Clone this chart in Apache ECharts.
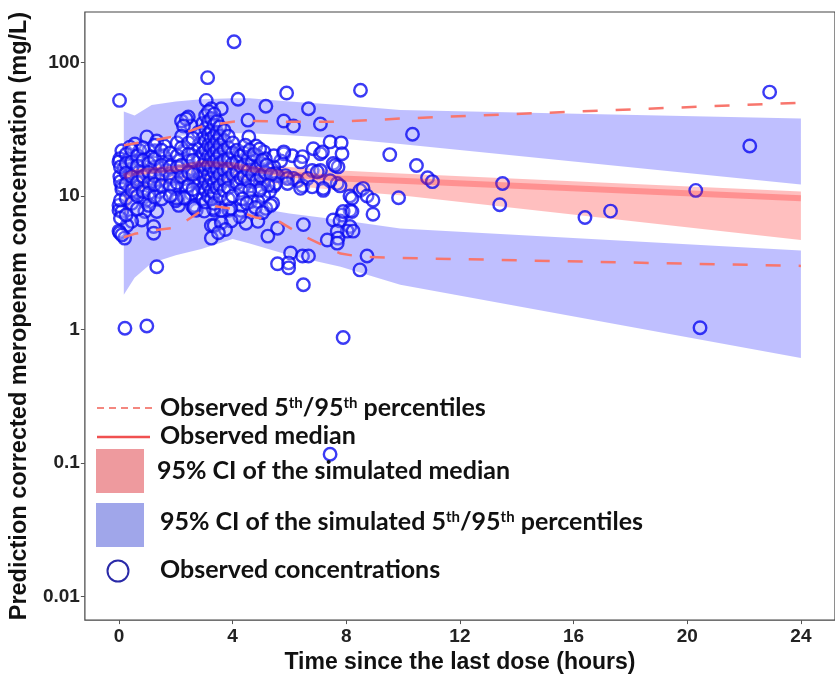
<!DOCTYPE html>
<html><head><meta charset="utf-8">
<script src="https://cdn.jsdelivr.net/npm/echarts@6/dist/echarts.min.js"></script>
<style>html,body{margin:0;padding:0;background:#fff}#c{width:835px;height:679px}</style>
</head><body><div id="c"></div>
<script>
// ---------- tick labels ----------
const xTicks = [0, 4, 8, 12, 16, 20, 24];
const yTicks = [0.01, 0.1, 1, 10, 100];
const yTickLabels = ['0.01', '0.1', '1', '10', '100'];

// ---------- simulated bands (time bins) ----------
const bandTime   = [0.17, 0.55, 1.15, 2.0, 2.9, 4.0, 4.6, 6.0, 7.8, 9.9, 24];
// 95% CI of simulated 95th percentile
const p95CiLo    = [23, 24, 26, 28, 29, 29.5, 29.5, 28.5, 27, 24.5, 12.2];
const p95CiHi    = [43, 40, 48, 51, 53, 54, 54, 51, 48, 44, 38];
// 95% CI of simulated 5th percentile
const p5CiLo     = [1.82, 2.44, 3.15, 3.6, 4.0, 4.75, 4.4, 3.6, 2.95, 2.16, 0.61];
const p5CiHi     = [10, 9.9, 9.8, 9.6, 9.4, 9.0, 8.3, 7.4, 6.6, 5.7, 3.9];
// 95% CI of simulated median
const medCiLo    = [6.8, 10.5, 12, 12.5, 13, 13, 12.8, 12, 11, 10.1, 4.67];
const medCiHi    = [15, 16, 17, 17.5, 18, 18, 17.5, 16.5, 15.5, 14.7, 10.8];

// ---------- observed percentiles ----------
const medObsTime = [0.17, 0.55, 1.15, 2.0, 2.9, 4.0, 4.6, 6.0, 7.8, 9.9, 24];
const medObs     = [14, 15, 15.5, 16, 17.5, 17, 16, 14.5, 13.5, 13, 9.6];
const p95ObsTime = [0.17, 1.15, 2.0, 2.9, 4.0, 4.6, 6.0, 7.8, 9.9, 24];
const p95Obs     = [24, 26, 28, 33, 36, 36.5, 36, 36, 38, 50];
const p5ObsTime  = [0.17, 0.55, 1.15, 2.0, 2.5, 3.2, 4.0, 4.8, 5.6, 6.5, 7.8, 8.5, 9.9, 24];
const p5Obs      = [4.9, 5.2, 5.5, 5.8, 6.8, 8.5, 8.0, 6.9, 6.5, 5.0, 3.7, 3.5, 3.43, 2.99];

// ---------- observed concentrations [time (h), conc (mg/L)] ----------
const observed = [
 [0.02,52],[4.05,143],[3.12,77],[5.9,59],[8.5,62],[4.19,53],[3.07,52],[5.17,47],[6.67,45],[3.25,45],[3.6,45],
 [22.9,60],[22.2,23.7],[20.3,11],[16.4,6.9],[17.3,7.7],[13.5,12.4],[13.4,8.6],[10.33,29],[10.47,16.9],[10.86,13.7],
 [11.03,12.8],[9.53,20.4],[9.84,9.7],[20.45,1.03],[0.21,1.02],[0.98,1.06],[7.89,0.87],[7.43,0.116],[1.33,2.95],[6.49,2.16],
 [5.41,8.8],[8.13,7.8],[8.94,7.3],[7.85,7.2],[7.54,6.6],[7.78,6.5],[6.49,6.1],[5.58,5.73],[8.13,5.9],[8.03,5.45],
 [7.68,5.45],[8.24,5.45],[7.33,4.67],[7.71,4.83],[7.68,4.43],[6.04,3.74],[6.46,3.55],[6.67,3.55],[8.73,3.55],[5.58,3.1],
 [5.97,3.15],[5.97,2.89],[8.48,2.79],
 [5.8,36.4],[6.14,33.4],[7.09,34.6],[7.43,25.4],[7.82,25],[7.85,20.7],[6.84,22.6],[7.09,20.7],[5.8,20.7],[6.1,20],
 [6.46,19.7],[7.54,17.5],[7.71,16.5],[6.8,15.5],[7.09,15.5],[7.68,12.4],[7.78,11.9],[6.39,18],[5.69,18.3],[5.45,16.5],
 [5.5,14.7],[5.86,14.2],[6.14,13.5],[6.46,11.9],[7.19,11],[8.13,10],[8.48,11],[5.45,11.9],
 [8.59,11.4],[8.73,10],[8.94,9.3],
 [4.54,37],[2.44,39],[2.55,33.4],[4.57,27.7],[4.82,23.7],[2.72,7.8],[3.35,7.8],[3.87,7.8],[4.29,7.8],[3.25,6.0],
 [3.25,4.83],[4.47,6.25],[4.89,6.45],[5.24,5.0],[5.17,8.07],[5.3,10.8],[4.64,9.1],
 [2.2,36.4],[2.37,37.7],[2.27,33.4],[0.98,27.7],[1.33,25.8],[0.56,24.5],[0.38,23.2],[1.6,23.7],[0.1,21.8],[1.26,21.8],
 [1.05,21.8],[0.73,21.8],[2.27,21.8],[2.6,21.8],[0.03,19],[0.0,18],[0.35,19],[0.7,18.3],[1.15,19.6],[1.57,20],
 [1.75,18],[2.1,18.3],[2.44,18.3],[0.17,16],[0.45,16],[0.87,15.5],[1.26,16.5],[1.68,15.5],[2.09,15.2],[2.55,16],
 [0.03,14],[0.35,13.5],[0.7,13.5],[1.15,13.5],[1.43,13],[1.92,13.5],[2.3,13.5],[2.65,13],[0.1,11.9],[0.52,11.9],
 [0.87,11.4],[1.33,11.4],[1.95,11.4],[2.37,11.7],[0.56,10.4],[0.87,9.8],[1.43,10.8],[2.09,9.8],[2.55,10.4],[0.0,8.5],
 [2.1,8.5],[2.65,8.5],
 [0.1,11.2],[0.91,9.1],[0.0,7.8],[0.1,7.65],[0.91,7.65],[1.33,7.65],[2.0,9.2],[2.3,9.8],[2.6,8.3],[0.8,6.6],
 [0.45,6.45],[0.28,6.0],[0.0,5.45],[0.03,5.3],[0.2,4.83],[0.1,5.1],[1.22,5.9],[1.22,5.25],
 [4.22,20],[5.1,21.4],[5.45,20],[5.8,21.4],[7.16,21.4],[7.6,16.9],[4.54,16.9],[4.89,16.9],[5.24,16],[5.58,14.2],
 [5.93,13.5],[6.28,13],[6.63,13.5],[6.98,15.2],[7.43,13],[7.19,11.4],[6.8,11.7],[6.39,11.4],[5.93,12.4],[5.51,12.4],
 [5.1,12.8],[4.75,12.8],[4.4,11.9],[4.05,12.8],[5.1,10],[4.64,9.6],[4.89,9.1],[5.34,8.5],[4.29,8.5],[3.94,8.07],
 [3.6,7.8],[3.32,8.07],[3.0,7.7],[3.35,6.0],[2.65,8.07],[2.3,9.6],[2.02,9.6],[7.89,7.65],[8.2,7.65],[8.2,9.6],
 [2.8,30],[2.8,24],[2.8,19],[2.8,15],[2.8,12.5],[2.8,10.5],
 [2.95,35],[2.95,27],[2.95,21],[2.95,17],[2.95,14],[2.95,11.5],[2.95,9.5],
 [3.05,40],[3.05,32],[3.05,26],[3.05,22],[3.05,18.5],[3.05,16],[3.05,13],[3.05,11],[3.05,9],
 [3.15,43],[3.15,36],[3.15,29],[3.15,24],[3.15,20],[3.15,17],[3.15,14.5],[3.15,12],[3.15,10],
 [3.25,38],[3.25,31],[3.25,27],[3.25,23],[3.25,19.5],[3.25,16.5],[3.25,13.5],[3.25,11],[3.25,9.5],
 [3.35,41],[3.35,34],[3.35,28],[3.35,24],[3.35,21],[3.35,18],[3.35,15],[3.35,12.5],[3.35,10.5],[3.35,8.8],
 [3.45,36],[3.45,30],[3.45,26],[3.45,22],[3.45,19],[3.45,16],[3.45,13.5],[3.45,11.5],
 [3.55,33],[3.55,28],[3.55,24],[3.55,20.5],[3.55,17.5],[3.55,14.5],[3.55,12],[3.55,10],
 [3.7,31],[3.7,26],[3.7,22],[3.7,18.5],[3.7,15.5],[3.7,13],[3.7,11],
 [3.85,28],[3.85,23],[3.85,19],[3.85,16],[3.85,13.5],[3.85,11.5],[3.85,9.5],
 [4.0,25],[4.0,21],[4.0,17.5],[4.0,14.5],[4.0,10],
 [4.15,22],[4.15,18],[4.15,15],[4.15,12.5],
 [4.3,20],[4.3,16.5],[4.3,13.5],[4.3,11],
 [4.4,21],[4.4,17],[4.4,14],[4.55,19],[4.55,15.5],[4.55,13],[4.7,18],[4.7,14.5],[4.85,20],[4.85,16],
 [4.85,13],[5.0,17.5],[5.0,14],[5.0,11.5],[5.15,19],[5.15,15],
 [0.05,16.5],[0.05,12.8],[0.05,9.3],[0.05,6.8],
 [0.25,20.5],[0.25,17.5],[0.25,14.8],[0.25,12.3],[0.25,9.6],[0.25,7.2],
 [0.45,22],[0.45,18],[0.45,14],[0.45,11],[0.45,8.8],
 [0.65,20],[0.65,16.8],[0.65,12.6],[0.65,10],[0.65,8],
 [0.85,23],[0.85,18.5],[0.85,14],[0.85,10.8],
 [1.05,17.5],[1.05,15],[1.05,12.5],[1.05,10.5],[1.05,8.5],
 [1.25,24],[1.25,19],[1.25,14.2],[1.25,12.2],[1.25,9.8],
 [1.5,22],[1.5,17],[1.5,14.5],[1.5,12],[1.5,9.5],
 [1.8,21],[1.8,16.5],[1.8,14],[1.8,12],[1.8,10],
 [2.05,25],[2.05,20],[2.05,16.5],[2.05,12.5],
 [2.2,28],[2.2,23],[2.2,17],[2.2,14],
 [2.45,25],[2.45,20.5],[2.45,15],[2.45,12],
 [2.6,27],[2.6,18.5],[2.6,14.5],[2.6,11.2],
 [4.45,24],[4.6,22],[4.75,20.5],[4.95,22.5],[5.05,18.5],[5.2,17],[5.35,14.5],[5.25,12],[4.95,11],[4.6,11],
 [4.35,9.5],[4.5,8.8],[4.8,8.2],[5.05,7.5],[4.25,7],[3.95,6.5],[3.6,6.3],[3.75,5.6],[3.5,5.3]
];

// ---------- chart ----------
const axisFont = "'Liberation Sans', Arial, sans-serif";
const legendFont = "Lato, 'Open Sans', sans-serif";

function bandSeries(name, lo, hi, fill) {
  return {
    name, type: 'custom', silent: true,
    data: bandTime.map((t, i) => [t, lo[i], hi[i]]),
    encode: { x: 0, y: [1, 2] },
    renderItem: (params, api) => {
      if (params.dataIndex !== 0) return null;
      const top = [], bot = [];
      for (let i = 0; i < bandTime.length; i++) {
        top.push(api.coord([bandTime[i], hi[i]]));
        bot.push(api.coord([bandTime[i], lo[i]]));
      }
      return { type: 'polygon', shape: { points: top.concat(bot.reverse()) }, style: { fill } };
    }
  };
}

function near(a, b) { return Math.abs(Math.log10(a) - Math.log10(b)) < 1e-6; }

const chart = echarts.init(document.getElementById('c'), null, { renderer: 'canvas' });
const LFS = 25;
const legendText = { fontFamily: legendFont, fontWeight: 'bold', fontSize: LFS, fill: '#111' };
const mainRich = { fontFamily: legendFont, fontWeight: 'bold', fontSize: LFS, fill: '#111' };
const sup = { fontFamily: legendFont, fontWeight: 'bold', fontSize: 15, verticalAlign: 'top', fill: '#111' };

chart.setOption({
  animation: false,
  backgroundColor: '#fff',
  grid: { left: 82, top: 12, width: 757, height: 613, show: true, borderColor: '#444', borderWidth: 1.2, backgroundColor: 'transparent' },
  xAxis: {
    type: 'value', min: -1.2, max: 25.2,
    name: 'Time since the last dose (hours)', nameLocation: 'middle', nameGap: 29,
    nameTextStyle: { fontFamily: axisFont, fontWeight: 'bold', fontSize: 23, color: '#111' },
    axisLine: { show: false, onZero: false },
    axisTick: { show: true, customValues: xTicks, length: 4, lineStyle: { color: '#555' } },
    axisLabel: { customValues: xTicks, fontFamily: axisFont, fontWeight: 'bold', fontSize: 19, color: '#222', margin: 7 },
    splitLine: { show: false }
  },
  yAxis: {
    type: 'log', logBase: 10, min: 0.00663, max: 239,
    name: 'Prediction corrected meropenem concentration (mg/L)', nameLocation: 'middle', nameGap: 46,
    nameTextStyle: { fontFamily: axisFont, fontWeight: 'bold', fontSize: 23.5, color: '#111' },
    axisLine: { show: false, onZero: false },
    axisTick: { show: true, customValues: yTicks, length: 4, lineStyle: { color: '#555' } },
    axisLabel: {
      customValues: yTicks, fontFamily: axisFont, fontWeight: 'bold', fontSize: 19, color: '#222', margin: 5,
      formatter: v => { const i = yTicks.findIndex(t => near(t, v)); return i >= 0 ? yTickLabels[i] : ''; }
    },
    splitLine: { show: false }
  },
  series: [
    bandSeries('p95ci', p95CiLo, p95CiHi, 'rgba(0,0,255,0.25)'),
    bandSeries('p5ci', p5CiLo, p5CiHi, 'rgba(0,0,255,0.25)'),
    bandSeries('medci', medCiLo, medCiHi, 'rgba(255,0,0,0.25)'),
    { type: 'line', silent: true, symbol: 'none', data: medObsTime.map((t, i) => [t, medObs[i]]),
      lineStyle: { color: 'rgba(255,40,40,0.3)', width: 6 } },
    { type: 'line', silent: true, symbol: 'none', data: p95ObsTime.map((t, i) => [t, p95Obs[i]]),
      lineStyle: { color: '#f8766d', width: 2.5, type: [15, 18] } },
    { type: 'line', silent: true, symbol: 'none', data: p5ObsTime.map((t, i) => [t, p5Obs[i]]),
      lineStyle: { color: '#f8766d', width: 2.5, type: [15, 18] } },
    { type: 'scatter', silent: true, symbol: 'circle', symbolSize: 12.5, data: observed,
      itemStyle: { color: 'rgba(255,255,255,0.25)', borderColor: '#0a0af2', borderWidth: 2.4 } }
  ],
  graphic: [
    { type: 'line', shape: { x1: 97, y1: 408, x2: 152, y2: 408 }, style: { stroke: '#f4877f', lineWidth: 2, lineDash: [7, 5] }, z: 100 },
    { type: 'text', x: 160, y: 408, z: 100, style: Object.assign({}, legendText, { text: '{m|Observed 5}{s|th}{m|/95}{s|th}{m| percentiles}', verticalAlign: 'middle', rich: { m: mainRich, s: sup } }) },
    { type: 'line', shape: { x1: 97, y1: 437, x2: 150, y2: 437 }, style: { stroke: '#f05050', lineWidth: 2.5 }, z: 100 },
    { type: 'text', x: 160, y: 436, z: 100, style: Object.assign({}, legendText, { text: 'Observed median', verticalAlign: 'middle' }) },
    { type: 'rect', shape: { x: 96, y: 449, width: 48, height: 44 }, style: { fill: '#ee9a9e' }, z: 100 },
    { type: 'text', x: 157, y: 471, z: 100, style: Object.assign({}, legendText, { text: '95% CI of the simulated median', verticalAlign: 'middle' }) },
    { type: 'rect', shape: { x: 96, y: 503, width: 48, height: 44 }, style: { fill: '#a0a6ea' }, z: 100 },
    { type: 'text', x: 160, y: 522, z: 100, style: Object.assign({}, legendText, { text: '{m|95% CI of the simulated 5}{s|th}{m|/95}{s|th}{m| percentiles}', verticalAlign: 'middle', rich: { m: mainRich, s: sup } }) },
    { type: 'circle', shape: { cx: 118, cy: 571, r: 10.5 }, style: { fill: 'none', stroke: '#2a2aa8', lineWidth: 2 }, z: 100 },
    { type: 'text', x: 160, y: 570, z: 100, style: Object.assign({}, legendText, { text: 'Observed concentrations', verticalAlign: 'middle' }) }
  ]
});
</script>
</body></html>
